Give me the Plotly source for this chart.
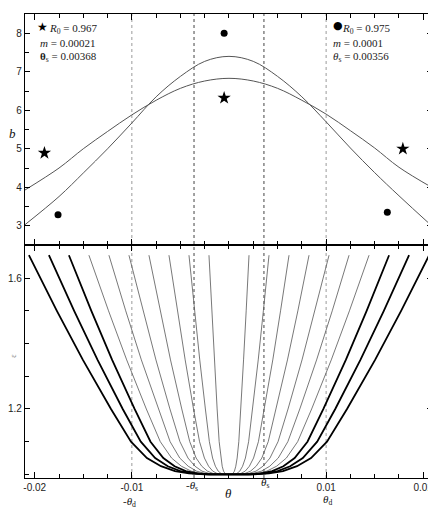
import plotly.graph_objects as go

# ---------------- data ----------------
THETA_GRID = [-0.021, -0.0175, -0.015, -0.0125, -0.01, -0.0075, -0.005, -0.0025, 0.0,
              0.0025, 0.005, 0.0075, 0.01, 0.0125, 0.015, 0.0175, 0.021]
B_CURVE_TALL = [3.03, 3.76, 4.37, 5.00, 5.67, 6.35, 6.88, 7.27, 7.40,
                7.27, 6.88, 6.35, 5.70, 5.02, 4.38, 3.78, 2.97]
B_CURVE_FLAT = [3.93, 4.50, 5.00, 5.45, 5.88, 6.26, 6.57, 6.76, 6.83,
                6.76, 6.57, 6.26, 5.90, 5.47, 5.02, 4.52, 3.98]

STAR_THETA = [-0.0190, -0.0005, 0.0179]
STAR_B = [4.89, 6.32, 5.00]
DOT_THETA = [-0.0176, -0.0005, 0.0163]
DOT_B = [3.29, 8.00, 3.35]

THETA_S = 0.0036
THETA_D = 0.01

# lower panel: epsilon levels and theta of the right-hand branch of each curve
EPS_LEVELS = [1.0, 1.003, 1.01, 1.025, 1.05, 1.1, 1.2, 1.35, 1.5, 1.67]
BRANCHES = [
    [0.00025, 0.00041, 0.00056, 0.00070, 0.00084, 0.00101, 0.00122, 0.00150, 0.00177, 0.00206],
    [0.00049, 0.00082, 0.00111, 0.00140, 0.00169, 0.00202, 0.00243, 0.00301, 0.00354, 0.00412],
    [0.00074, 0.00124, 0.00167, 0.00210, 0.00253, 0.00303, 0.00365, 0.00451, 0.00531, 0.00618],
    [0.00099, 0.00165, 0.00222, 0.00280, 0.00338, 0.00404, 0.00486, 0.00602, 0.00709, 0.00824],
    [0.00124, 0.00206, 0.00278, 0.00350, 0.00422, 0.00505, 0.00608, 0.00752, 0.00886, 0.01030],
    [0.00148, 0.00247, 0.00334, 0.00420, 0.00507, 0.00606, 0.00729, 0.00902, 0.01063, 0.01236],
    [0.00173, 0.00288, 0.00389, 0.00490, 0.00591, 0.00707, 0.00851, 0.01053, 0.01240, 0.01442],
    [0.00198, 0.00330, 0.00445, 0.00560, 0.00676, 0.00808, 0.00972, 0.01203, 0.01417, 0.01648],
    [0.00222, 0.00371, 0.00501, 0.00630, 0.00760, 0.00908, 0.01094, 0.01353, 0.01594, 0.01854],
    [0.00247, 0.00412, 0.00556, 0.00700, 0.00845, 0.01009, 0.01215, 0.01504, 0.01772, 0.02060],
]
THICK = [False] * 7 + [True] * 3

X_TICKS = [-0.02, -0.01, 0.01, 0.02]
X_TICKTEXT = ["-0.02", "-0.01", "0.01", "0.02"]

# ---------------- figure ----------------
fig = go.Figure()

# top panel curves
for bvals in (B_CURVE_TALL, B_CURVE_FLAT):
    fig.add_trace(go.Scatter(x=THETA_GRID, y=bvals, mode="lines", xaxis="x2", yaxis="y2",
                             line=dict(color="#555555", width=1, shape="spline"),
                             showlegend=False, hoverinfo="skip"))
fig.add_trace(go.Scatter(x=STAR_THETA, y=STAR_B, mode="markers", xaxis="x2", yaxis="y2",
                         marker=dict(symbol="star", size=10, color="black",
                                     line=dict(width=0)),
                         showlegend=False))
fig.add_trace(go.Scatter(x=DOT_THETA, y=DOT_B, mode="markers", xaxis="x2", yaxis="y2",
                         marker=dict(symbol="circle", size=7, color="black",
                                     line=dict(width=0)),
                         showlegend=False))

# lower panel curves
for branch, thick in zip(BRANCHES, THICK):
    xs = [-v for v in reversed(branch)] + list(branch)
    ys = list(reversed(EPS_LEVELS)) + list(EPS_LEVELS)
    fig.add_trace(go.Scatter(x=xs, y=ys, mode="lines", xaxis="x", yaxis="y",
                             line=dict(color="black" if thick else "#555555",
                                       width=1.8 if thick else 0.8),
                             showlegend=False, hoverinfo="skip"))

# vertical reference lines
for xv, col in ((-THETA_D, "#9a9a9a"), (THETA_D, "#9a9a9a"),
                (-THETA_S, "#444444"), (THETA_S, "#444444")):
    fig.add_shape(type="line", xref="x", yref="paper", x0=xv, x1=xv, y0=0, y1=1,
                  line=dict(color=col, width=1, dash="dot"), layer="below")

tickfont = dict(family="Liberation Sans, Arial, sans-serif", size=10, color="#222222")
XRANGE = [-0.0210, 0.0209]
SPLIT = 0.502

common_x = dict(range=XRANGE, showline=True, linecolor="black", linewidth=1.2,
                mirror="ticks", ticks="inside", ticklen=6, tickwidth=1.2, tickcolor="black",
                tickmode="array", tickvals=X_TICKS, ticktext=X_TICKTEXT,
                showgrid=False, zeroline=False, automargin=False,
                minor=dict(dtick=0.0025, tick0=0, ticks="inside", ticklen=4,
                           tickwidth=1, tickcolor="black"))

# the page body has an 8px margin, so the figure is sized to fit inside the window
fig.update_layout(
    width=428, height=510,
    margin=dict(l=17, r=4, t=6, b=40),
    paper_bgcolor="white", plot_bgcolor="white",
    xaxis=dict(domain=[0, 1], anchor="y", tickfont=tickfont, **common_x),
    xaxis2=dict(domain=[0, 1], anchor="y2", matches="x", showticklabels=False, **common_x),
    yaxis=dict(domain=[0, SPLIT], anchor="x", range=[0.989, 1.701], tick0=0, dtick=0.4,
               showline=True, linecolor="black", linewidth=1.2, mirror="ticks",
               ticks="inside", ticklen=5, tickwidth=1.2, tickcolor="black",
               showgrid=False, zeroline=False, tickfont=tickfont, automargin=False,
               minor=dict(dtick=0.1, tick0=0, ticks="inside", ticklen=4,
                          tickwidth=1, tickcolor="black")),
    yaxis2=dict(domain=[SPLIT, 1], anchor="x2", range=[2.5, 8.5], tick0=0, dtick=1,
                showline=True, linecolor="black", linewidth=1.2, mirror="ticks",
                ticks="inside", ticklen=5, tickwidth=1.2, tickcolor="black",
                showgrid=False, zeroline=False, tickfont=tickfont, automargin=False,
                minor=dict(dtick=0.5, tick0=0, ticks="inside", ticklen=4,
                           tickwidth=1, tickcolor="black")),
)

serif = "Liberation Serif, Times New Roman, serif"
txt = dict(family=serif, size=11, color="#222")
ann = []
# legend, top-left
ann.append(dict(x=-0.0200, y=8.15, xref="x2", yref="y2", xanchor="left", yanchor="middle",
                text="★", showarrow=False, font=dict(family="DejaVu Sans", size=12, color="black")))
ann.append(dict(x=-0.0187, y=8.12, xref="x2", yref="y2", xanchor="left", yanchor="middle",
                text="<i>R</i><sub>0</sub> = 0.967", showarrow=False, font=txt))
ann.append(dict(x=-0.0197, y=7.74, xref="x2", yref="y2", xanchor="left", yanchor="middle",
                text="<i>m</i> = 0.00021", showarrow=False, font=txt))
ann.append(dict(x=-0.0197, y=7.38, xref="x2", yref="y2", xanchor="left", yanchor="middle",
                text="<b>θ</b><sub>s</sub> = 0.00368", showarrow=False, font=txt))
# legend, top-right
ann.append(dict(x=0.0105, y=8.19, xref="x2", yref="y2", xanchor="left", yanchor="middle",
                text="●", showarrow=False, font=dict(family="DejaVu Sans", size=11, color="black")))
ann.append(dict(x=0.0114, y=8.12, xref="x2", yref="y2", xanchor="left", yanchor="middle",
                text="<i>R</i><sub>0</sub> = 0.975", showarrow=False, font=txt))
ann.append(dict(x=0.0105, y=7.74, xref="x2", yref="y2", xanchor="left", yanchor="middle",
                text="<i>m</i> = 0.0001", showarrow=False, font=txt))
ann.append(dict(x=0.0105, y=7.38, xref="x2", yref="y2", xanchor="left", yanchor="middle",
                text="<i>θ</i><sub>s</sub> = 0.00356", showarrow=False, font=txt))
# axis labels
ann.append(dict(x=-0.045, y=0.763, xref="paper", yref="paper", text="<i>b</i>",
                showarrow=False, font=dict(family=serif, size=13, color="#111")))
ann.append(dict(x=-0.045, y=0.255, xref="paper", yref="paper", text="ε", textangle=-90,
                showarrow=False, font=dict(family=serif, size=8, color="#777")))
ann.append(dict(x=0.0, y=-0.054, xref="x", yref="paper", text="<i>θ</i>",
                showarrow=False, font=dict(family=serif, size=13, color="#111")))
# theta_s / theta_d labels below the axis
ann.append(dict(x=-THETA_S, y=-0.037, xref="x", yref="paper", xshift=-2,
                text="-<i>θ</i><sub>s</sub>", showarrow=False,
                font=dict(family=serif, size=11, color="#111")))
ann.append(dict(x=THETA_S, y=-0.031, xref="x", yref="paper", xshift=1,
                text="<i>θ</i><sub>s</sub>", showarrow=False,
                font=dict(family=serif, size=11, color="#111")))
ann.append(dict(x=-THETA_D, y=-0.072, xref="x", yref="paper", xshift=-2,
                text="-<i>θ</i><sub>d</sub>", showarrow=False,
                font=dict(family=serif, size=11, color="#111")))
ann.append(dict(x=THETA_D, y=-0.067, xref="x", yref="paper", xshift=1,
                text="<i>θ</i><sub>d</sub>", showarrow=False,
                font=dict(family=serif, size=11, color="#111")))
fig.update_layout(annotations=ann)

fig.write_html("out.html")
